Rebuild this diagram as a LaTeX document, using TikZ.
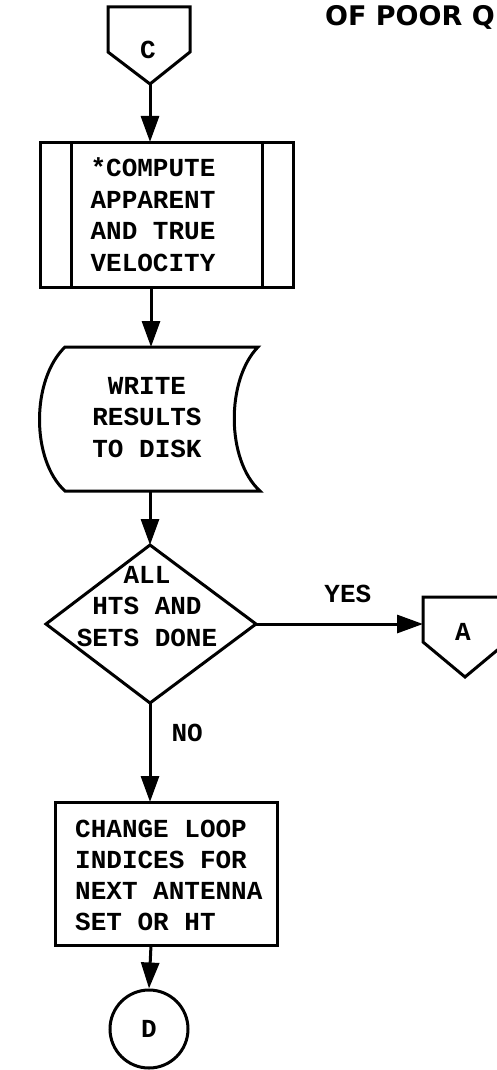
\documentclass[tikz,border=0pt]{standalone}
\usepackage{fontspec}
\newfontfamily\typew{Liberation Mono}[BoldFont={Liberation Mono Bold}]
\newfontfamily\headfont{DejaVu Sans}[BoldFont={DejaVu Sans Bold}]
\usetikzlibrary{arrows.meta}
\begin{document}
\begin{tikzpicture}[x=1pt,y=-1pt,
  shp/.style={line width=3pt, line join=miter},
  flow/.style={line width=3pt, -{Triangle[length=26pt,width=18pt]}},
  txt/.style={font=\typew\bfseries\fontsize{26}{31.5}\selectfont, inner sep=0pt, align=center},
  ltxt/.style={font=\typew\bfseries\fontsize{26}{31}\selectfont, inner sep=0pt, align=left, anchor=west},
  lab/.style={font=\typew\bfseries\fontsize{26}{31}\selectfont, inner sep=0pt}
]
\useasboundingbox (0,0) rectangle (497,1070);
\clip (0,0) rectangle (497,1070);
\fill[white] (0,0) rectangle (497,1070);

% header
\node[font=\headfont\bfseries\fontsize{27}{30}\selectfont, anchor=base east, inner sep=0pt] (hdr) at (495,26) {OF POOR Q};

% off-page connector C
\draw[shp] (108,7) -- (190,7) -- (190,52) -- (150,84) -- (108,52) -- cycle;
\coordinate (ctip) at (150,84);
\node[lab] (cl) at (148,50) {C};

% process box
\draw[shp] (40,142) rectangle (293,287);
\draw[shp] (71,142) -- (71,287);
\draw[shp] (262,142) -- (262,287);
\coordinate (proctop) at (150,142);
\coordinate (procbot) at (151,287);
\node[txt] (proc) at (153,214.5) {*COMPUTE\\APPARENT\\AND TRUE\\VELOCITY};

% document / storage shape
\draw[shp] (65,347) -- (258,347) .. controls (226,380) and (226,460) .. (260,491) -- (65,491) .. controls (31,460) and (31,380) .. (65,347) -- cycle;
\coordinate (doctop) at (151,347);
\coordinate (docbot) at (150,491);
\node[txt] (doc) at (147,417.5) {WRITE\\RESULTS\\TO DISK};

% decision
\draw[shp] (150,545) -- (256,624) -- (150,703) -- (46,624) -- cycle;
\coordinate (dtop) at (150,545);
\coordinate (dright) at (256,624);
\coordinate (dbot) at (150,703);
\node[txt] (dec) at (147,606.5) {ALL\\HTS AND\\SETS DONE};

% off-page connector A
\draw[shp] (423,597) -- (507,597) -- (507,642) -- (465,677) -- (423,642) -- cycle;
\coordinate (aleft) at (423,624);
\node[lab] (al) at (463,632) {A};

% change box
\draw[shp] (55,802) rectangle (277,945);
\coordinate (chtop) at (150,802);
\coordinate (chbot) at (151,945);
\node[ltxt] (ch) at (75,875) {CHANGE LOOP\\INDICES FOR\\NEXT ANTENNA\\SET OR HT};

% connector D
\node[draw, shape=circle, line width=3pt, minimum size=78pt, inner sep=0pt, font=\typew\bfseries\fontsize{26}{31}\selectfont] (dcirc) at (149,1029) {D};

% flow lines
\draw[flow] (ctip) -- (proctop);
\draw[flow] (procbot) -- (doctop);
\draw[flow] (docbot) -- (dtop);
\draw[flow] (dright) -- node[lab, above=20pt, pos=0.55] (yes) {YES} (aleft);
\draw[flow] (dbot) -- node[lab, right=20pt, pos=0.3] (no) {NO} (chtop);
\draw[flow] (chbot) -- (dcirc.north);
\end{tikzpicture}
\end{document}
